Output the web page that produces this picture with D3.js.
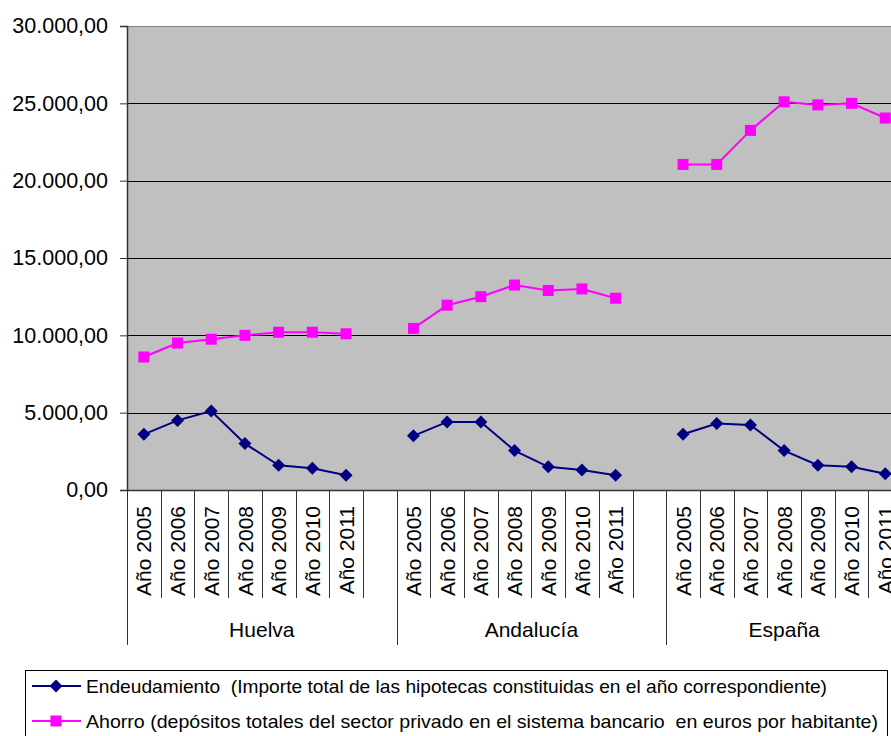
<!DOCTYPE html>
<html>
<head>
<meta charset="utf-8">
<script src="https://cdn.jsdelivr.net/npm/d3@7"></script>
<style>
  body { margin: 0; background: #fff; }
  text { font-family: "Liberation Sans", Arial, sans-serif; fill: #000; }
</style>
</head>
<body>
<div id="chart"></div>
<script>
// Chart data
const groups = ["Huelva", "Andalucía", "España"];
const years = ["Año 2005", "Año 2006", "Año 2007", "Año 2008", "Año 2009", "Año 2010", "Año 2011"];
const yTicks = [0, 5000, 10000, 15000, 20000, 25000, 30000];

// Endeudamiento, one array per group
const endHuelva = [3600, 4500, 5100, 3000, 1600, 1400, 950];
const endAndalucia = [3500, 4400, 4400, 2550, 1500, 1300, 950];
const endEspana = [3600, 4300, 4200, 2550, 1600, 1500, 1050];

// Ahorro, one array per group
const ahoHuelva = [8600, 9500, 9750, 10000, 10200, 10200, 10100];
const ahoAndalucia = [10450, 11950, 12500, 13250, 12900, 13000, 12400];
const ahoEspana = [21050, 21050, 23250, 25100, 24900, 25000, 24050];

const legendLabels = [
  "Endeudamiento  (Importe total de las hipotecas constituidas en el año correspondiente)",
  "Ahorro (depósitos totales del sector privado en el sistema bancario  en euros por habitante)"
];

// Size of the picture
const width = 891;
const height = 736;

// Build category keys: 7 years per group, with an empty slot between groups
const categories = [];
groups.forEach((g, gi) => {
  years.forEach(y => categories.push(g + "|" + y));
  if (gi < groups.length - 1) categories.push("gap" + gi);
});

const plotLeft = 127, plotTop = 26, plotBottom = 490;
const step = 33.7;

const x = d3.scaleBand()
  .domain(categories)
  .range([plotLeft, plotLeft + step * categories.length])
  .padding(0);

const y = d3.scaleLinear()
  .domain([0, 30000])
  .range([plotBottom, plotTop]);

const svg = d3.select("#chart")
  .append("svg")
  .attr("width", width)
  .attr("height", height);

svg.append("rect").attr("width", width).attr("height", height).attr("fill", "#fff");

// Plot area
const plotRight = x.range()[1];
svg.append("rect")
  .attr("x", plotLeft).attr("y", plotTop)
  .attr("width", plotRight - plotLeft).attr("height", plotBottom - plotTop)
  .attr("fill", "#c0c0c0");

// Gridlines
svg.append("g")
  .selectAll("line")
  .data(yTicks.filter(d => d > 0))
  .join("line")
  .attr("x1", plotLeft).attr("x2", plotRight)
  .attr("y1", d => Math.round(y(d)) + 0.5).attr("y2", d => Math.round(y(d)) + 0.5)
  .attr("stroke", d => d === 30000 ? "#808080" : "#000")
  .attr("stroke-width", 1);

// Y axis
const yAxis = svg.append("g")
  .attr("transform", `translate(${plotLeft},0)`)
  .call(d3.axisLeft(y)
    .tickValues(yTicks)
    .tickSize(7)
    .tickPadding(12)
    .tickFormat(d => d3.format(",.2f")(d).replace(/,/g, "#").replace(".", ",").replace(/#/g, ".")));
yAxis.select(".domain").attr("stroke", "#333").attr("stroke-width", 1.5);
yAxis.selectAll(".tick line").attr("stroke", "#333");
yAxis.selectAll(".tick text")
  .style("font-size", "21.5px")
  .attr("font-family", null);
yAxis.attr("font-family", null).attr("font-size", null);

// X axis line
svg.append("line")
  .attr("x1", plotLeft).attr("x2", plotRight)
  .attr("y1", plotBottom + 0.5).attr("y2", plotBottom + 0.5)
  .attr("stroke", "#333").attr("stroke-width", 1.5);

// Category dividers: short between categories, long at group boundaries
const boundaries = [];
categories.forEach((c, i) => {
  const isGroupStart = i === 0 || categories[i - 1].startsWith("gap");
  boundaries.push({ x: x(c), long: isGroupStart });
});
boundaries.push({ x: plotRight, long: true });

svg.append("g")
  .selectAll("line")
  .data(boundaries)
  .join("line")
  .attr("x1", d => Math.round(d.x) + 0.5).attr("x2", d => Math.round(d.x) + 0.5)
  .attr("y1", plotBottom).attr("y2", d => d.long ? 645 : 598)
  .attr("stroke", "#333")
  .attr("stroke-width", 1);

// Year labels (rotated)
svg.append("g")
  .selectAll("text")
  .data(categories.filter(c => !c.startsWith("gap")))
  .join("text")
  .attr("transform", c => `translate(${x(c) + x.bandwidth() / 2},506) rotate(-90)`)
  .attr("text-anchor", "end")
  .attr("dy", "0.36em")
  .style("font-size", "21px")
  .text(c => c.split("|")[1]);

// Group labels
svg.append("g")
  .selectAll("text")
  .data(groups)
  .join("text")
  .attr("x", g => {
    const first = x(g + "|" + years[0]);
    const last = x(g + "|" + years[years.length - 1]) + x.bandwidth();
    const end = g === groups[groups.length - 1] ? last : last + step;
    return (first + end) / 2;
  })
  .attr("y", 637)
  .attr("text-anchor", "middle")
  .style("font-size", "21px")
  .text(g => g);

// Series
const series = [
  { name: legendLabels[0], color: "#000080", shape: "diamond", data: [endHuelva, endAndalucia, endEspana] },
  { name: legendLabels[1], color: "#ff00ff", shape: "square", data: [ahoHuelva, ahoAndalucia, ahoEspana] }
];

const line = d3.line()
  .x(d => x(d.key) + x.bandwidth() / 2)
  .y(d => y(d.value));

const diamond = "M0,-6.5L6.5,0L0,6.5L-6.5,0Z";

function marker(sel, s) {
  if (s.shape === "square") {
    sel.append("rect")
      .attr("x", -5.5).attr("y", -5.5).attr("width", 11).attr("height", 11)
      .attr("fill", s.color);
  } else {
    sel.append("path").attr("d", diamond).attr("fill", s.color);
  }
}

series.forEach(s => {
  groups.forEach((g, gi) => {
    const pts = years.map((yr, i) => ({ key: g + "|" + yr, value: s.data[gi][i] }));
    svg.append("path")
      .datum(pts)
      .attr("d", line)
      .attr("fill", "none")
      .attr("stroke", s.color)
      .attr("stroke-width", 2);
    svg.append("g")
      .selectAll("g")
      .data(pts)
      .join("g")
      .attr("transform", d => `translate(${x(d.key) + x.bandwidth() / 2},${y(d.value)})`)
      .each(function () { marker(d3.select(this), s); });
  });
});

// Legend
svg.append("rect")
  .attr("x", 25.5).attr("y", 670.5)
  .attr("width", 862).attr("height", 80)
  .attr("fill", "#fff")
  .attr("stroke", "#000");

const legendWidths = [741, 792];
const legend = svg.append("g")
  .selectAll("g")
  .data(series)
  .join("g")
  .attr("transform", (d, i) => `translate(0,${686 + i * 35})`);

legend.append("line")
  .attr("x1", 32).attr("x2", 81)
  .attr("stroke", d => d.color).attr("stroke-width", 2);
legend.append("g")
  .attr("transform", "translate(56,0)")
  .each(function (d) { marker(d3.select(this), d); });
legend.append("text")
  .attr("x", 86)
  .attr("dy", "0.36em")
  .attr("textLength", (d, i) => legendWidths[i])
  .attr("lengthAdjust", "spacingAndGlyphs")
  .style("white-space", "pre")
  .style("font-size", "18.5px")
  .text(d => d.name);
</script>
</body>
</html>
